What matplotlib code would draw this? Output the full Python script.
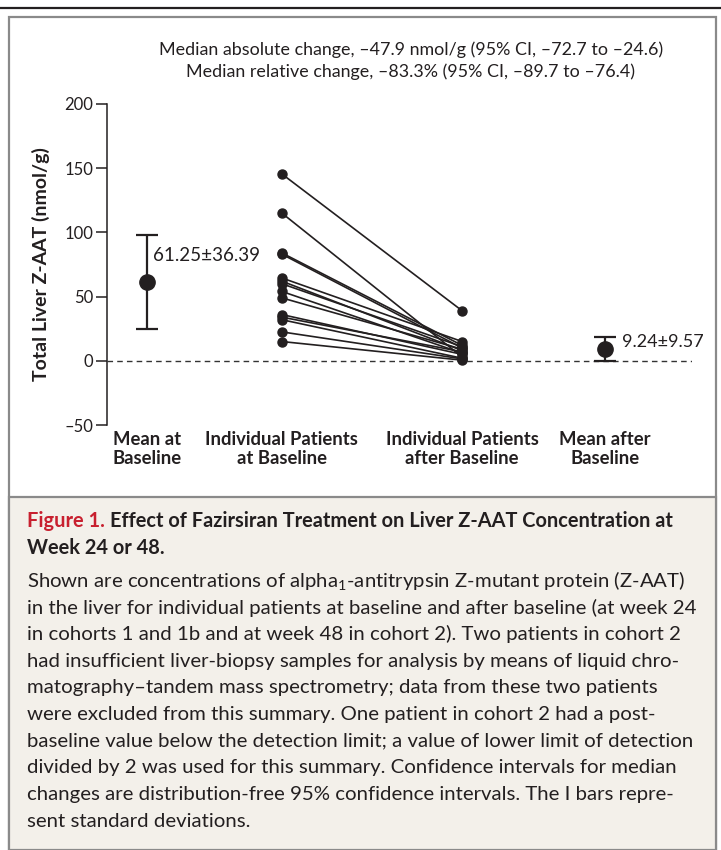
#!/usr/bin/env python3
"""Liver Z-AAT before/after fazirsiran — NEJM-style figure with caption panel."""

import matplotlib
matplotlib.use("Agg")
import matplotlib.pyplot as plt
from matplotlib.patches import Rectangle

plt.rcParams["font.family"] = ["Lato", "DejaVu Sans"]
plt.rcParams["mathtext.fontset"] = "custom"
plt.rcParams["mathtext.rm"] = "Lato"

# =============================================================================
# DATA
# =============================================================================
CATEGORIES = ["Mean at\nBaseline", "Individual Patients\nat Baseline",
              "Individual Patients\nafter Baseline", "Mean after\nBaseline"]

BASELINE = [145.5, 115, 84, 83, 64.5, 62, 60, 54, 49, 36, 34, 32, 22.5, 15]
AFTER    = [39, 3, 12, 10, 15, 8, 11, 6, 9, 5, 7, 2, 1.5, 0.5]

MEAN_BASE, SD_BASE   = 61.25, 36.39
MEAN_AFTER, SD_AFTER = 9.24, 9.57

Y_TICKS = [-50, 0, 50, 100, 150, 200]

HEADER = ["Median absolute change, \u201347.9 nmol/g (95% CI, \u201372.7 to \u201324.6)",
          "Median relative change, \u201383.3% (95% CI, \u201389.7 to \u201376.4)"]

CAPTION_TITLE = ["Effect of Fazirsiran Treatment on Liver Z-AAT Concentration at",
                 "Week 24 or 48."]
CAPTION_BODY = [
    r"Shown are concentrations of alpha$_{\mathregular{1}}$-antitrypsin Z-mutant protein (Z-AAT)",
    "in the liver for individual patients at baseline and after baseline (at week 24",
    "in cohorts 1 and 1b and at week 48 in cohort 2). Two patients in cohort 2",
    "had insufficient liver-biopsy samples for analysis by means of liquid chro-",
    "matography\u2013tandem mass spectrometry; data from these two patients",
    "were excluded from this summary. One patient in cohort 2 had a post-",
    "baseline value below the detection limit; a value of lower limit of detection",
    "divided by 2 was used for this summary. Confidence intervals for median",
    "changes are distribution-free 95% confidence intervals. The I bars repre-",
    "sent standard deviations.",
]

# =============================================================================
# STYLE / LAYOUT
# =============================================================================
W, H = 721, 850
X_POS = [0.068, 0.299, 0.607, 0.851]   # axes-fraction x of the four columns
INK = "#231f20"
RED = "#c8202f"
BEIGE = "#f3f0ea"
FRAME = "#8a8a8a"


def fx(px):
    return px / W


def fy(py):
    return 1 - py / H


fig = plt.figure(figsize=(W / 100, H / 100), dpi=100)

# frame, caption panel and top rule
fig.add_artist(Rectangle((fx(9), 0), fx(707), fy(17), transform=fig.transFigure,
                         facecolor="white", edgecolor=FRAME, linewidth=1.6, zorder=0))
fig.add_artist(Rectangle((fx(9), 0), fx(707), fy(497), transform=fig.transFigure,
                         facecolor=BEIGE, edgecolor=FRAME, linewidth=1.6, zorder=0))
fig.add_artist(plt.Line2D([0, 1], [fy(8), fy(8)], transform=fig.transFigure,
                          color=INK, linewidth=1.6))

# =============================================================================
# CHART
# =============================================================================
ax = fig.add_axes([fx(107), fy(425), fx(692 - 107), fy(104) - fy(425)])
ax.set_facecolor("none")
ax.set_xlim(0, 1)
ax.set_ylim(-50, 200)
ax.spines[["top", "right", "bottom"]].set_visible(False)
ax.spines["left"].set_linewidth(1.1)
ax.spines["left"].set_color(INK)
ax.set_yticks(Y_TICKS)
ax.set_yticklabels([str(t).replace("-", "\u2013") for t in Y_TICKS])
ax.tick_params(axis="y", direction="out", length=8, width=1.1, color=INK,
               labelsize=12, labelcolor=INK, pad=2)
ax.set_xticks([])

ax.axhline(0, color="#333333", linewidth=1.0, linestyle=(0, (4, 3)), zorder=1)

for b, a in zip(BASELINE, AFTER):
    ax.plot([X_POS[1], X_POS[2]], [b, a], color=INK, linewidth=1.2,
            marker="o", markersize=6.5, zorder=3)

ax.errorbar([X_POS[0]], [MEAN_BASE], yerr=[SD_BASE], fmt="o", color=INK,
            markersize=11, elinewidth=1.6, capsize=8, capthick=1.6, zorder=4)
ax.errorbar([X_POS[3]], [MEAN_AFTER], yerr=[SD_AFTER], fmt="o", color=INK,
            markersize=11, elinewidth=1.6, capsize=8, capthick=1.6, zorder=4)

ax.text(X_POS[0] + 0.01, 82, f"{MEAN_BASE:.2f}\u00b1{SD_BASE:.2f}",
        ha="left", va="center", fontsize=13.5, color=INK)
ax.text(X_POS[3] + 0.03, 15, f"{MEAN_AFTER:.2f}\u00b1{SD_AFTER:.2f}",
        ha="left", va="center", fontsize=13, color=INK)

for x, lab in zip(X_POS, CATEGORIES):
    ax.text(x, -55, lab, ha="center", va="top", fontsize=13.3, fontweight="bold",
            color=INK, linespacing=1.1, transform=ax.transData)

ax.set_ylabel("Total Liver Z-AAT (nmol/g)", fontsize=14, fontweight="bold",
              color=INK, labelpad=10)

for i, line in enumerate(HEADER):
    fig.text(fx(411), fy(50 + 22 * i), line, ha="center", va="center",
             fontsize=12.9, color=INK)

# =============================================================================
# CAPTION
# =============================================================================
t = fig.text(fx(27), fy(521), "Figure 1. ", ha="left", va="center",
             fontsize=14.4, fontweight="bold", color=RED)
fig.canvas.draw()
bb = t.get_window_extent()
fig.text(bb.x1 / fig.dpi / fig.get_figwidth(), fy(521), CAPTION_TITLE[0],
         ha="left", va="center", fontsize=14.4, fontweight="bold", color=INK)
fig.text(fx(27), fy(548), CAPTION_TITLE[1], ha="left", va="center",
         fontsize=14.4, fontweight="bold", color=INK)

for i, line in enumerate(CAPTION_BODY):
    fig.text(fx(27), fy(581 + 26.7 * i), line, ha="left", va="center",
             fontsize=14.7, color=INK)

fig.savefig("out.png", dpi=100)
